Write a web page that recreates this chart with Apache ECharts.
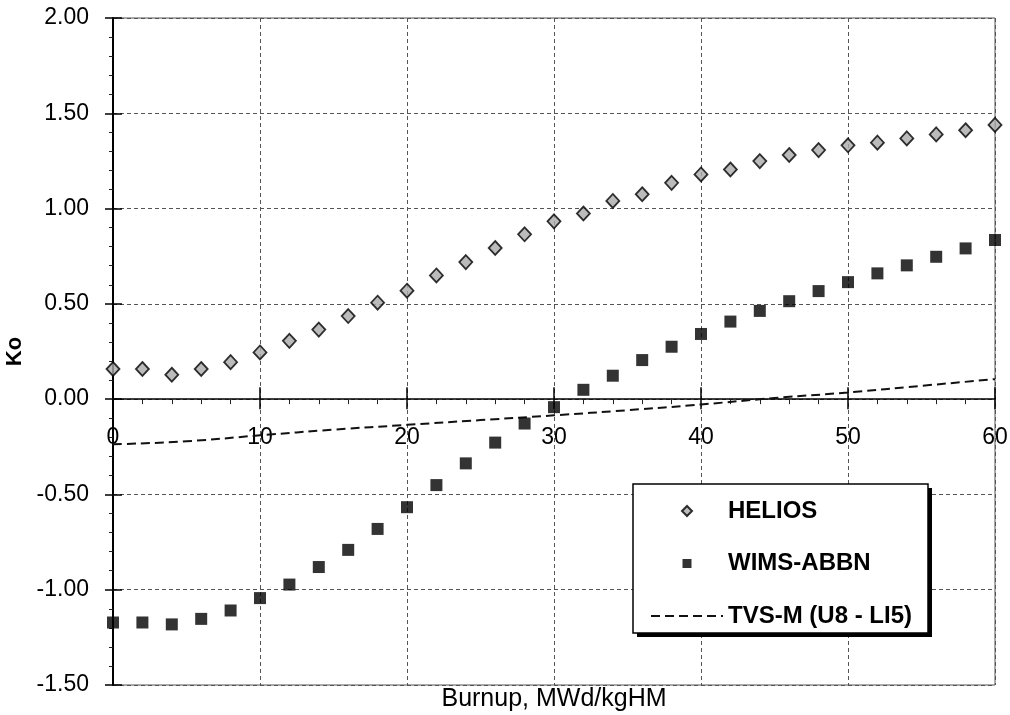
<!DOCTYPE html>
<html>
<head>
<meta charset="utf-8">
<script src="https://cdn.jsdelivr.net/npm/echarts@6/dist/echarts.min.js"></script>
<style>
  html, body { margin: 0; padding: 0; background: #fff; }
  #chart { width: 1010px; height: 715px; }
</style>
</head>
<body>
<div id="chart"></div>
<script>
// Burnup points (MWd/kgHM) for the two lattice codes
const burnup = [0, 2, 4, 6, 8, 10, 12, 14, 16, 18, 20, 22, 24, 26, 28, 30,
                32, 34, 36, 38, 40, 42, 44, 46, 48, 50, 52, 54, 56, 58, 60];

// Ko from HELIOS
const helios = [0.158, 0.158, 0.128, 0.158, 0.194, 0.245, 0.306, 0.365, 0.436, 0.506,
                0.569, 0.649, 0.719, 0.793, 0.865, 0.933, 0.974, 1.040, 1.075, 1.135,
                1.179, 1.205, 1.249, 1.281, 1.307, 1.332, 1.346, 1.368, 1.389, 1.411, 1.439];

// Ko from WIMS-ABBN
const wimsAbbn = [-1.172, -1.172, -1.182, -1.153, -1.109, -1.044, -0.973, -0.881, -0.791, -0.681,
                  -0.567, -0.451, -0.337, -0.228, -0.128, -0.042, 0.049, 0.123, 0.205, 0.275,
                  0.342, 0.407, 0.463, 0.514, 0.567, 0.614, 0.660, 0.702, 0.747, 0.791, 0.835];

// Ko from TVS-M (U8 - LI5), drawn as a dashed curve
const tvsBurnup = [0, 5, 10, 15, 20, 25, 30, 35, 40, 45, 50, 55, 60];
const tvsM = [-0.237, -0.221, -0.190, -0.160, -0.135, -0.110, -0.085, -0.058, -0.028, 0.006, 0.035, 0.070, 0.105];

// Axis ranges
const xRange = { min: 0, max: 60, step: 10 };
const yRange = { min: -1.5, max: 2.0, step: 0.5 };

const seriesNames = ['HELIOS', 'WIMS-ABBN', 'TVS-M (U8 - LI5)'];
const xTitle = 'Burnup, MWd/kgHM';
const yTitle = 'Ko';

const FONT = '"Liberation Sans", Arial, Helvetica, sans-serif';
const GRID = { left: 113, right: 15, top: 18, bottom: 30 };
const W = 1010, H = 715;

// Legend box geometry (the drop shadow sits behind it)
const LEG = { left: 633, top: 484, width: 295, height: 149 };

// Legend icons: small marker centred in a 72-wide slot (zero-length end stubs fix the box width)
const ICON_DIAMOND = 'path://M0,5L0,5.01M31,5L36,0L41,5L36,10ZM72,5L72,5.01';
const ICON_SQUARE = 'path://M0,5L0,5.01M31.5,0.5L40.5,0.5L40.5,9.5L31.5,9.5ZM72,5L72,5.01';

const pairs = (xs, ys) => xs.map((x, i) => [x, ys[i]]);

const chart = echarts.init(document.getElementById('chart'), null, { renderer: 'canvas' });

const baseX = { type: 'value', min: xRange.min, max: xRange.max, interval: xRange.step };
const baseY = { type: 'value', min: yRange.min, max: yRange.max, interval: yRange.step };

function buildOption(zeroOffset) {
  return {
    animation: false,
    backgroundColor: '#fff',
    grid: Object.assign({}, GRID, {
      outerBoundsMode: 'none',
      containLabel: false,
      show: true, borderColor: '#555', borderWidth: 1, backgroundColor: '#fff'
    }),
    xAxis: [
      // main x axis, shifted up so it runs along Ko = 0
      Object.assign({}, baseX, {
        position: 'bottom',
        offset: zeroOffset,
        axisLine: { onZero: false, lineStyle: { color: '#000', width: 1.5 } },
        axisTick: { show: true, length: 10, lineStyle: { color: '#000', width: 1.5 } },
        minorTick: { show: true, splitNumber: 5, length: 5, lineStyle: { color: '#222', width: 1 } },
        axisLabel: { margin: 27, fontSize: 23, color: '#000', fontFamily: FONT },
        splitLine: { show: true, lineStyle: { color: '#555', width: 1, type: [4, 3] } }
      }),
      // upward half of the crossing ticks on the zero line
      Object.assign({}, baseX, {
        position: 'bottom',
        offset: zeroOffset,
        axisLine: { show: false, onZero: false },
        axisTick: { show: true, inside: true, length: 12, lineStyle: { color: '#000', width: 1.5 } },
        axisLabel: { show: false },
        splitLine: { show: false }
      }),
      // axis title along the bottom edge of the plot
      Object.assign({}, baseX, {
        position: 'bottom',
        axisLine: { show: false, onZero: false },
        axisTick: { show: false },
        axisLabel: { show: false },
        splitLine: { show: false },
        name: xTitle,
        nameLocation: 'middle',
        nameGap: 2,
        nameTextStyle: { fontSize: 25, color: '#000', fontFamily: FONT, verticalAlign: 'top' }
      })
    ],
    yAxis: [
      Object.assign({}, baseY, {
        position: 'left',
        axisLine: { show: true, onZero: false, lineStyle: { color: '#000', width: 2 } },
        axisTick: { show: true, length: 8, lineStyle: { color: '#000', width: 1.5 } },
        minorTick: { show: true, splitNumber: 5, length: 4, lineStyle: { color: '#222', width: 1 } },
        axisLabel: {
          margin: 24, fontSize: 23, color: '#000', fontFamily: FONT,
          formatter: v => v.toFixed(2)
        },
        splitLine: { show: true, lineStyle: { color: '#555', width: 1, type: [4, 3] } },
        name: yTitle,
        nameLocation: 'middle',
        nameGap: 85,
        nameRotate: 90,
        nameTextStyle: { fontSize: 22, fontWeight: 'bold', color: '#000', fontFamily: FONT }
      }),
      // inward half of the crossing major ticks
      Object.assign({}, baseY, {
        position: 'left',
        axisLine: { show: false, onZero: false },
        axisTick: { show: true, inside: true, length: 9, lineStyle: { color: '#000', width: 1.5 } },
        axisLabel: { show: false },
        splitLine: { show: false }
      })
    ],
    graphic: [
      {
        type: 'rect', z: 90,
        shape: { x: LEG.left + 4, y: LEG.top + 4, width: LEG.width, height: LEG.height },
        style: { fill: '#000' }
      },
      {
        type: 'rect', z: 91,
        shape: { x: LEG.left, y: LEG.top, width: LEG.width, height: LEG.height },
        style: { fill: '#fff', stroke: '#000', lineWidth: 1.5 }
      }
    ],
    legend: {
      z: 100,
      orient: 'vertical',
      left: LEG.left, top: LEG.top,
      padding: [15, 17, 8, 17],
      itemGap: 28.5,
      itemWidth: 72,
      itemHeight: 11,
      backgroundColor: 'transparent',
      borderWidth: 0,
      textStyle: { fontSize: 24, fontWeight: 'bold', color: '#000', fontFamily: FONT },
      data: [
        { name: seriesNames[0], icon: ICON_DIAMOND },
        { name: seriesNames[1], icon: ICON_SQUARE },
        { name: seriesNames[2] }
      ]
    },
    series: [
      {
        name: seriesNames[0],
        type: 'scatter',
        xAxisIndex: 0, yAxisIndex: 0,
        symbol: 'diamond',
        symbolSize: [13, 14],
        itemStyle: { color: '#aaaaaa', borderColor: '#000', borderWidth: 1.8 },
        data: pairs(burnup, helios),
        z: 5
      },
      {
        name: seriesNames[1],
        type: 'scatter',
        xAxisIndex: 0, yAxisIndex: 0,
        symbol: 'rect',
        symbolSize: 12,
        itemStyle: { color: '#000' },
        data: pairs(burnup, wimsAbbn),
        z: 5
      },
      {
        name: seriesNames[2],
        type: 'line',
        xAxisIndex: 0, yAxisIndex: 0,
        symbol: 'none',
        showSymbol: false,
        smooth: true,
        itemStyle: { color: '#111', opacity: 0 },
        lineStyle: { color: '#111', width: 2, type: [9, 5], opacity: 1 },
        data: pairs(tvsBurnup, tvsM),
        z: 4
      }
    ]
  };
}

// First pass lays out the grid; the zero level then fixes where the x axis runs.
chart.setOption(buildOption(0));
const zeroY = chart.convertToPixel({ yAxisIndex: 0 }, 0);
const bottomY = H - GRID.bottom;
chart.setOption(buildOption(zeroY - bottomY));
</script>
</body>
</html>
